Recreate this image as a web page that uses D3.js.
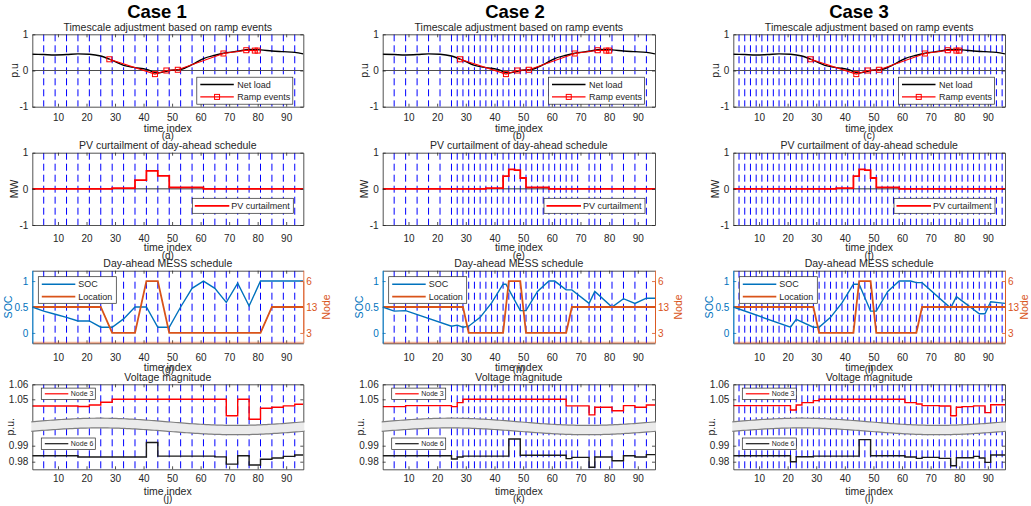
<!DOCTYPE html>
<html>
<head>
<meta charset="utf-8">
<script src="https://cdn.jsdelivr.net/npm/d3@7"></script>
<style>
  body { margin: 0; background: #fff; }
</style>
</head>
<body>
<script>
// ---------------- data ----------------
var caseNames = ["Case 1", "Case 2", "Case 3"];
var captions = [["(a)", "(b)", "(c)"], ["(d)", "(e)", "(f)"], ["(g)", "(h)", "(i)"], ["(j)", "(k)", "(l)"]];
var rowTitles = ["Timescale adjustment based on ramp events", "PV curtailment of day-ahead schedule",
                 "Day-ahead MESS schedule", "Voltage magnitude"];
var xTicks = [10, 20, 30, 40, 50, 60, 70, 80, 90];

// net load and ramp events (same for the three cases)
var netT    = [1, 5, 9, 13, 17, 21, 25, 29, 33, 37, 41, 45, 49, 53, 57, 61, 65, 69, 73, 77, 81, 85, 89, 93, 96];
var netLoad = [0.45, 0.44, 0.43, 0.44, 0.46, 0.45, 0.40, 0.28, 0.14, 0.08, 0.03, -0.07, 0.00, 0.03, 0.16, 0.33,
               0.42, 0.49, 0.53, 0.58, 0.57, 0.54, 0.52, 0.50, 0.46];
var rampT   = [28, 44, 48, 52, 68, 76, 79, 80];
var rampVal = [0.31, -0.10, 0.00, 0.02, 0.47, 0.56, 0.55, 0.55];

// timescale boundaries (blue dashed lines)
var bounds1 = d3.range(5, 96, 4);
var bounds2 = d3.union(d3.range(5, 96, 4), d3.range(27, 68, 2), [75]);
var bounds3 = d3.range(3, 96, 2);

// PV curtailment (MW, step after)
var pvT1 = [1, 29, 37, 41, 45, 49, 61, 96];
var pv1  = [0, 0.02, 0.24, 0.50, 0.36, 0.04, 0, 0];
var pvT2 = [1, 37, 43, 45, 47, 49, 51, 59, 96];
var pv2  = [0, 0.02, 0.35, 0.54, 0.52, 0.30, 0.04, 0, 0];
var pvT3 = [1, 37, 43, 45, 47, 49, 51, 59, 96];
var pv3  = [0, 0.02, 0.35, 0.54, 0.52, 0.30, 0.04, 0, 0];

// MESS state of charge
var socT1 = [1, 5, 9, 13, 17, 21, 25, 29, 33, 37, 41, 45, 49, 53, 57, 61, 65, 69, 73, 77, 81, 96];
var soc1  = [0.5, 0.42, 0.36, 0.30, 0.23, 0.23, 0.11, 0.11, 0.27, 0.5, 0.5, 0.11, 0.11, 0.5, 0.86, 1.0,
             0.86, 0.59, 0.96, 0.52, 1.0, 1.0];
var socT2 = [1, 5, 9, 25, 27, 29, 31, 35, 39, 43, 44, 49, 51, 55, 59, 61, 65, 67, 73, 75, 81, 85, 89, 93, 96];
var soc2  = [0.5, 0.42, 0.43, 0.13, 0.15, 0.11, 0.13, 0.30, 0.58, 0.94, 0.94, 0.43, 0.43, 0.80, 1.0, 1.0,
             0.83, 0.83, 0.57, 0.80, 0.50, 0.66, 0.57, 0.67, 0.67];
var socT3 = [1, 21, 23, 29, 31, 35, 39, 43, 45, 49, 51, 55, 59, 63, 65, 67, 77, 79, 87, 89, 91, 96];
var soc3  = [0.5, 0.11, 0.26, 0.11, 0.11, 0.30, 0.58, 0.94, 0.94, 0.42, 0.42, 0.80, 1.0, 1.0, 0.97, 0.97,
             0.48, 0.70, 0.37, 0.37, 0.60, 0.57];

// MESS location (node)
var nodeTicks = [3, 13, 6];
var locT1 = [1, 25, 29, 37, 41, 45, 49, 81, 85, 96];
var loc1  = [13, 13, 3, 3, 6, 6, 3, 3, 13, 13];
var locT2 = [1, 29, 31, 43, 45, 49, 51, 65, 67, 96];
var loc2  = [13, 13, 3, 3, 6, 6, 3, 3, 13, 13];
var locT3 = [1, 29, 31, 43, 45, 49, 51, 65, 67, 96];
var loc3  = [13, 13, 3, 3, 6, 6, 3, 3, 13, 13];

// voltage magnitude (p.u., step after)
var n3T1 = [1, 17, 21, 25, 29, 69, 73, 77, 81, 85, 89, 93, 96];
var n3v1 = [1.0455, 1.0452, 1.0462, 1.048, 1.05, 1.039, 1.05, 1.0367, 1.044, 1.0447, 1.0456, 1.0467, 1.0467];
var n6T1 = [1, 17, 41, 45, 65, 69, 73, 77, 81, 85, 89, 93, 96];
var n6v1 = [0.9837, 0.9829, 0.992, 0.9835, 0.983, 0.9785, 0.9837, 0.9779, 0.9815, 0.9823, 0.9833, 0.9842, 0.9842];
var n3T2 = [1, 9, 25, 27, 29, 65, 73, 75, 81, 85, 89, 93, 96];
var n3v2 = [1.0451, 1.0458, 1.0451, 1.0478, 1.05, 1.0456, 1.0396, 1.0447, 1.0424, 1.0458, 1.0447, 1.0462, 1.0462];
var n6T2 = [1, 25, 27, 29, 45, 49, 65, 67, 73, 75, 81, 85, 89, 93, 96];
var n6v2 = [0.9837, 0.9817, 0.9829, 0.9835, 0.9942, 0.984, 0.9819, 0.9827, 0.9765, 0.9829, 0.9806, 0.9837,
            0.9829, 0.9844, 0.9844];
var n3T3 = [1, 21, 23, 25, 29, 31, 61, 65, 67, 73, 77, 79, 81, 85, 89, 91, 96];
var n3v3 = [1.0458, 1.0429, 1.0462, 1.0478, 1.0491, 1.05, 1.0478, 1.0469, 1.0458, 1.0455, 1.039, 1.0447,
            1.0451, 1.0456, 1.0411, 1.0464, 1.0464];
var n6T3 = [1, 21, 23, 29, 45, 49, 61, 65, 67, 73, 77, 79, 85, 87, 89, 91, 96];
var n6v3 = [0.9837, 0.98, 0.9831, 0.9835, 0.9938, 0.9837, 0.9829, 0.9821, 0.9827, 0.9821, 0.9775, 0.9825,
            0.9833, 0.9823, 0.9796, 0.9842, 0.9842];

var cases = [
  { bounds: bounds1, pvT: pvT1, pv: pv1, socT: socT1, soc: soc1, locT: locT1, loc: loc1, n3T: n3T1, n3: n3v1, n6T: n6T1, n6: n6v1 },
  { bounds: bounds2, pvT: pvT2, pv: pv2, socT: socT2, soc: soc2, locT: locT2, loc: loc2, n3T: n3T2, n3: n3v2, n6T: n6T2, n6: n6v2 },
  { bounds: bounds3, pvT: pvT3, pv: pv3, socT: socT3, soc: soc3, locT: locT3, loc: loc3, n3T: n3T3, n3: n3v3, n6T: n6T3, n6: n6v3 }
];

// ---------------- layout ----------------
var FONT = "'Liberation Sans', Arial, Helvetica, sans-serif";
var INK = "#262626";
var BLUE = "#0072BD", ORANGE = "#D95319";
var colX = [[32.3, 303.3], [382.7, 655], [733.3, 1005]];
var rowY = [[34.3, 106.7], [152.7, 225], [270.7, 343.3], [384.3, 469.3]];
var titleX = [157, 515, 859];
var tickOff = [10.6, 13.2, 14, 9.5], labOff = [22, 22.3, 24, 21.7], capOff = [29, 30, 26.5, 29];

var svg = d3.select("body").append("svg")
    .attr("width", 1031)
    .attr("height", 506)
    .style("font-family", FONT);

function panel(c, r) {
  var p = { left: colX[c][0], right: colX[c][1], top: rowY[r][0], bot: rowY[r][1], c: c, r: r };
  p.x = d3.scaleLinear().domain([1, 96]).range([p.left, p.right]);
  p.g = svg.append("g");
  var id = "clip" + c + r;
  svg.append("clipPath").attr("id", id).append("rect")
    .attr("x", p.left).attr("y", p.top)
    .attr("width", p.right - p.left).attr("height", p.bot - p.top);
  p.clip = "url(#" + id + ")";
  return p;
}

function styleAxis(sel, color) {
  sel.attr("font-family", FONT).attr("font-size", 10);
  sel.select(".domain").attr("stroke", color).attr("stroke-width", 0.8);
  sel.selectAll(".tick line").attr("stroke", color).attr("stroke-width", 0.8);
  sel.selectAll(".tick text").attr("fill", color);
}

// blue dashed lines at the timescale boundaries
function boundaries(p, list) {
  p.g.append("g").selectAll("line")
    .data(Array.from(list))
    .enter()
    .append("line")
      .attr("x1", function(d) { return p.x(d); })
      .attr("x2", function(d) { return p.x(d); })
      .attr("y1", p.top)
      .attr("y2", p.bot)
      .attr("stroke", "#0000ff")
      .attr("stroke-width", 1)
      .attr("stroke-dasharray", "7,4");
}

function xAxes(p) {
  p.g.append("g")
      .attr("transform", "translate(0," + p.bot + ")")
      .call(d3.axisBottom(p.x).tickValues(xTicks).tickSize(-3).tickSizeOuter(0).tickPadding(tickOff[p.r] - 3.5))
      .call(styleAxis, INK);
  p.g.append("g")
      .attr("transform", "translate(0," + p.top + ")")
      .call(d3.axisTop(p.x).tickValues(xTicks).tickSize(-3).tickSizeOuter(0).tickFormat(""))
      .call(styleAxis, INK);
  var cx = (p.left + p.right) / 2;
  p.g.append("text").attr("x", cx).attr("y", p.bot + labOff[p.r]).attr("dy", "0.35em")
    .attr("text-anchor", "middle").attr("font-size", 10.5).attr("fill", INK).text("time index");
  p.g.append("text").attr("x", cx).attr("y", p.bot + capOff[p.r]).attr("dy", "0.35em")
    .attr("text-anchor", "middle").attr("font-size", 10).attr("fill", INK).text(captions[p.r][p.c]);
  p.g.append("text").attr("x", cx).attr("y", p.top - 7).attr("dy", "0.35em")
    .attr("text-anchor", "middle").attr("font-size", 10.5).attr("fill", INK).text(rowTitles[p.r]);
}

function yLabel(p, x, text, color) {
  p.g.append("text")
      .attr("transform", "translate(" + x + "," + (p.top + p.bot) / 2 + ") rotate(-90)")
      .attr("text-anchor", "middle")
      .attr("dy", "0.35em")
      .attr("font-size", 10.5)
      .attr("fill", color)
      .text(text);
}

// legend box; items: {label, color, width, marker}
function legend(g, x0, y0, w, h, items, opt) {
  g.append("rect").attr("x", x0).attr("y", y0).attr("width", w).attr("height", h)
    .attr("fill", "#fff").attr("stroke", INK).attr("stroke-width", 0.7);
  items.forEach(function(it, i) {
    var yy = y0 + opt.rows[i];
    g.append("line").attr("x1", x0 + opt.l1).attr("x2", x0 + opt.l2).attr("y1", yy).attr("y2", yy)
      .attr("stroke", it.color).attr("stroke-width", it.width);
    if (it.marker) {
      g.append("rect").attr("x", x0 + (opt.l1 + opt.l2) / 2 - 2.5).attr("y", yy - 2.5)
        .attr("width", 5).attr("height", 5).attr("fill", "none").attr("stroke", it.color).attr("stroke-width", 1);
    }
    g.append("text").attr("x", x0 + opt.tx).attr("y", yy).attr("dy", "0.35em")
      .attr("font-size", opt.fs).attr("fill", INK).text(it.label);
  });
}

// ---------------- row 1: timescale adjustment ----------------
function drawRamp(c) {
  var p = panel(c, 0);
  var y = d3.scaleLinear().domain([-1, 1]).range([p.bot, p.top]);
  var data = p.g.append("g").attr("clip-path", p.clip);
  boundaries({ g: data, x: p.x, top: p.top, bot: p.bot }, cases[c].bounds);

  data.append("line").attr("x1", p.left).attr("x2", p.right).attr("y1", y(0)).attr("y2", y(0))
    .attr("stroke", "#4d4d4d").attr("stroke-width", 1);

  var net = d3.line()
    .x(function(d, i) { return p.x(netT[i]); })
    .y(function(d) { return y(d); })
    .curve(d3.curveMonotoneX);
  data.append("path").attr("d", net(netLoad))
    .attr("fill", "none").attr("stroke", "#000").attr("stroke-width", 1.4);

  var ramp = d3.line()
    .x(function(d, i) { return p.x(rampT[i]); })
    .y(function(d) { return y(d); });
  data.append("path").attr("d", ramp(rampVal))
    .attr("fill", "none").attr("stroke", "#ff0000").attr("stroke-width", 1.2);
  data.selectAll("rect.m").data(rampVal).enter().append("rect").attr("class", "m")
    .attr("x", function(d, i) { return p.x(rampT[i]) - 2.5; })
    .attr("y", function(d) { return y(d) - 2.5; })
    .attr("width", 5).attr("height", 5)
    .attr("fill", "none").attr("stroke", "#ff0000").attr("stroke-width", 1);

  xAxes(p);
  p.g.append("g").attr("transform", "translate(" + p.left + ",0)")
    .call(d3.axisLeft(y).tickValues([-1, 0, 1]).tickSize(-3).tickSizeOuter(0).tickPadding(4).tickFormat(String))
    .call(styleAxis, INK);
  p.g.append("g").attr("transform", "translate(" + p.right + ",0)")
    .call(d3.axisRight(y).tickValues([-1, 0, 1]).tickSize(-3).tickSizeOuter(0).tickFormat(""))
    .call(styleAxis, INK);
  yLabel(p, p.left - 18, "p.u", INK);

  legend(p.g, p.right - 106.5, p.bot - 29.5, 96, 27,
    [{ label: "Net load", color: "#000", width: 1.4 },
     { label: "Ramp events", color: "#ff0000", width: 1.2, marker: true }],
    { l1: 3.5, l2: 37, tx: 40.5, rows: [7.3, 19.7], fs: 9 });

  svg.append("text").attr("x", titleX[c]).attr("y", 17.7)
    .attr("text-anchor", "middle").attr("font-size", 18.5).attr("font-weight", "bold")
    .attr("fill", "#000").text(caseNames[c]);
}

// ---------------- row 2: PV curtailment ----------------
function drawPV(c) {
  var p = panel(c, 1);
  var cs = cases[c];
  var y = d3.scaleLinear().domain([-1, 1]).range([p.bot, p.top]);
  var data = p.g.append("g").attr("clip-path", p.clip);
  boundaries({ g: data, x: p.x, top: p.top, bot: p.bot }, cs.bounds);

  data.append("line").attr("x1", p.left).attr("x2", p.right).attr("y1", y(0)).attr("y2", y(0))
    .attr("stroke", "#333").attr("stroke-width", 1);

  var pv = d3.line()
    .x(function(d, i) { return p.x(cs.pvT[i]); })
    .y(function(d) { return y(d); })
    .curve(d3.curveStepAfter);
  data.append("path").attr("d", pv(cs.pv))
    .attr("fill", "none").attr("stroke", "#ff0000").attr("stroke-width", 1.8);

  xAxes(p);
  p.g.append("g").attr("transform", "translate(" + p.left + ",0)")
    .call(d3.axisLeft(y).tickValues([-1, 0, 1]).tickSize(-3).tickSizeOuter(0).tickPadding(4).tickFormat(String))
    .call(styleAxis, INK);
  p.g.append("g").attr("transform", "translate(" + p.right + ",0)")
    .call(d3.axisRight(y).tickValues([-1, 0, 1]).tickSize(-3).tickSizeOuter(0).tickFormat(""))
    .call(styleAxis, INK);
  yLabel(p, p.left - 18, "MW", INK);

  legend(p.g, p.right - 111, p.bot - 26.7, 101, 15,
    [{ label: "PV curtailment", color: "#ff0000", width: 1.8 }],
    { l1: 2.5, l2: 37, tx: 39, rows: [7.5], fs: 9 });
}

// ---------------- row 3: MESS schedule ----------------
function drawMESS(c) {
  var p = panel(c, 2);
  var cs = cases[c];
  var y = d3.scaleLinear().domain([-0.2, 1.2]).range([p.bot, p.top]);
  var yNode = d3.scalePoint().domain(nodeTicks).range([y(0), y(1)]);
  var data = p.g.append("g").attr("clip-path", p.clip);
  boundaries({ g: data, x: p.x, top: p.top, bot: p.bot }, cs.bounds);

  var soc = d3.line()
    .x(function(d, i) { return p.x(cs.socT[i]); })
    .y(function(d) { return y(d); });
  data.append("path").attr("d", soc(cs.soc))
    .attr("fill", "none").attr("stroke", BLUE).attr("stroke-width", 1.4);

  var loc = d3.line()
    .x(function(d, i) { return p.x(cs.locT[i]); })
    .y(function(d) { return yNode(d); });
  data.append("path").attr("d", loc(cs.loc))
    .attr("fill", "none").attr("stroke", ORANGE).attr("stroke-width", 1.8);

  xAxes(p);
  p.g.append("line").attr("x1", p.left).attr("x2", p.right).attr("y1", p.bot - 0.5).attr("y2", p.bot - 0.5)
    .attr("stroke", ORANGE).attr("stroke-opacity", 0.45).attr("stroke-width", 2);
  p.g.append("g").attr("transform", "translate(" + p.left + ",0)")
    .call(d3.axisLeft(y).tickValues([0, 0.5, 1]).tickSize(-3).tickSizeOuter(0).tickPadding(4).tickFormat(String))
    .call(styleAxis, BLUE);
  p.g.append("g").attr("transform", "translate(" + p.right + ",0)")
    .call(d3.axisRight(yNode).tickSize(-3).tickSizeOuter(0).tickPadding(3))
    .call(styleAxis, ORANGE);
  p.g.append("line").attr("x1", p.right + 0.5).attr("x2", p.right + 0.5).attr("y1", p.top).attr("y2", p.bot)
    .attr("stroke", ORANGE).attr("stroke-width", 0.8);
  p.g.append("line").attr("x1", p.left + 0.5).attr("x2", p.left + 0.5).attr("y1", p.top).attr("y2", p.bot)
    .attr("stroke", BLUE).attr("stroke-width", 0.8);
  yLabel(p, p.left - 23.5, "SOC", BLUE);
  yLabel(p, Math.min(p.right + 23, 1024), "Node", ORANGE);

  legend(p.g, p.left + 6, p.top + 6, 78, 26.6,
    [{ label: "SOC", color: BLUE, width: 1.4 },
     { label: "Location", color: ORANGE, width: 1.8 }],
    { l1: 3.5, l2: 37, tx: 40, rows: [7.6, 20], fs: 9 });
}

// ---------------- row 4: voltage magnitude (broken axis) ----------------
function drawVoltage(c) {
  var p = panel(c, 3);
  var cs = cases[c];
  var yU = d3.scaleLinear().domain([1.035, 1.06]).range([p.top + 37.5, p.top]);
  var yL = d3.scaleLinear().domain([0.97525, 1.0]).range([p.bot, p.bot - 39.6]);
  var data = p.g.append("g").attr("clip-path", p.clip);
  boundaries({ g: data, x: p.x, top: p.top, bot: p.bot }, cs.bounds);

  var step = function(T, ys) {
    return d3.line()
      .x(function(d, i) { return p.x(T[i]); })
      .y(function(d) { return ys(d); })
      .curve(d3.curveStepAfter);
  };
  data.append("path").attr("d", step(cs.n3T, yU)(cs.n3))
    .attr("fill", "none").attr("stroke", "#ff0000").attr("stroke-width", 1.4);
  data.append("path").attr("d", step(cs.n6T, yL)(cs.n6))
    .attr("fill", "none").attr("stroke", "#1a1a1a").attr("stroke-width", 1.4);

  xAxes(p);
  [[yU, [1.05, 1.06]], [yL, [0.98, 0.99]]].forEach(function(s) {
    p.g.append("g").attr("transform", "translate(" + p.left + ",0)")
      .call(d3.axisLeft(s[0]).tickValues(s[1]).tickSize(-3).tickSizeOuter(0).tickPadding(4).tickFormat(d3.format(".2f")))
      .call(styleAxis, INK);
    p.g.append("g").attr("transform", "translate(" + p.right + ",0)")
      .call(d3.axisRight(s[0]).tickValues(s[1]).tickSize(-3).tickSizeOuter(0).tickFormat(""))
      .call(styleAxis, INK);
  });

  // wavy break band
  var w = d3.range(0, 1.0001, 0.01);
  var bx = d3.scaleLinear().domain([0, 1]).range([p.left - 1, p.right + 1]);
  var band = d3.area()
    .x(function(f) { return bx(f); })
    .y0(function(f) { return p.top + 37.5 - 3.6 * Math.sin(2 * Math.PI * f); })
    .y1(function(f) { return p.top + 47 - 3.4 * Math.sin(2 * Math.PI * f); });
  p.g.append("path").attr("d", band(w)).attr("fill", "#ebebeb").attr("stroke", "none");
  p.g.append("path").attr("d", band.lineY0()(w)).attr("fill", "none").attr("stroke", "#7f7f7f").attr("stroke-width", 1.2);
  p.g.append("path").attr("d", band.lineY1()(w)).attr("fill", "none").attr("stroke", "#7f7f7f").attr("stroke-width", 1.2);

  yLabel(p, p.left - 22, "p.u.", INK);

  var opt = { l1: 3.5, l2: 27, tx: 29.5, rows: [5.7], fs: 7 };
  legend(p.g, p.left + 9, p.top + 3.8, 54, 11.5, [{ label: "Node 3", color: "#ff0000", width: 1.2 }], opt);
  legend(p.g, p.left + 9, p.top + 53.7, 54, 11.5, [{ label: "Node 6", color: "#1a1a1a", width: 1.2 }], opt);
}

[0, 1, 2].forEach(function(c) {
  drawRamp(c);
  drawPV(c);
  drawMESS(c);
  drawVoltage(c);
});
</script>
</body>
</html>
